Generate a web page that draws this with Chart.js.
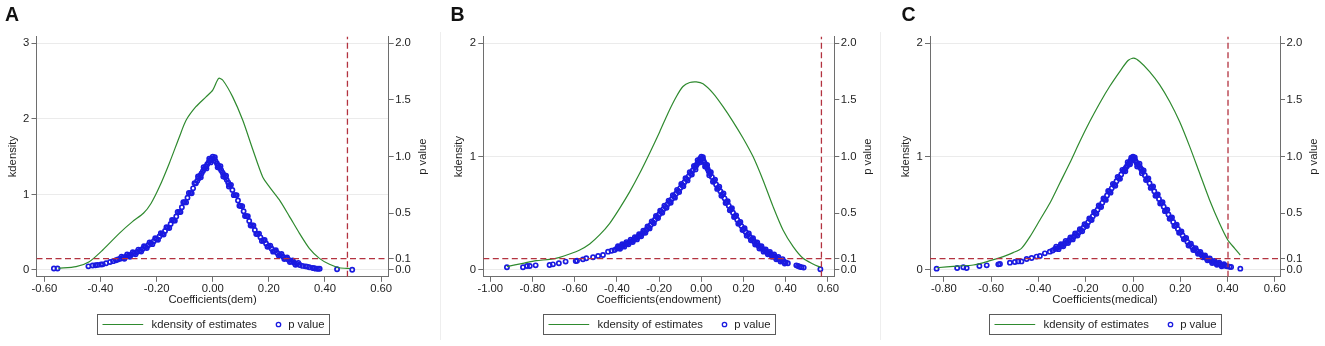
<!DOCTYPE html>
<html>
<head>
<meta charset="utf-8">
<script src="https://cdn.jsdelivr.net/npm/chart.js"></script>
<style>
  html, body { margin: 0; padding: 0; background: #fff; }
  #wrap { position: relative; width: 1325px; height: 346px; overflow: hidden; }
  .panel { position: absolute; top: 0; height: 346px; }
  .panel canvas { position: absolute; left: 0; top: 0; }
  .tag { position: absolute; top: 3.9px; font: bold 19.5px/20px "Liberation Sans", Arial, sans-serif; color: #111; }
  .sep { position: absolute; top: 32px; width: 1px; height: 308px; background: #eeeeee; }
</style>
</head>
<body>
<div id="wrap">
  <div class="panel" style="left:0;width:440px"><canvas id="chartA" width="440" height="346"></canvas></div>
  <div class="panel" style="left:440px;width:440px"><canvas id="chartB" width="440" height="346"></canvas></div>
  <div class="panel" style="left:880px;width:445px"><canvas id="chartC" width="445" height="346"></canvas></div>
  <div class="sep" style="left:440px"></div>
  <div class="sep" style="left:880px"></div>
  <div class="tag" style="left:5px">A</div>
  <div class="tag" style="left:450.5px">B</div>
  <div class="tag" style="left:901.5px">C</div>
</div>
<script>
// ---- data ----
const xTicksA = [-0.6, -0.4, -0.2, 0, 0.2, 0.4, 0.6];
const xTicksB = [-1.0, -0.8, -0.6, -0.4, -0.2, 0, 0.2, 0.4, 0.6];
const xTicksC = [-0.8, -0.6, -0.4, -0.2, 0, 0.2, 0.4, 0.6];
const kdTicksA = [0, 1, 2, 3];
const kdTicksBC = [0, 1, 2];
const pTicks = [0, 0.1, 0.5, 1, 1.5, 2];
const pCutoff = 0.1;
const coefCutoffs = [0.48, 0.569, 0.402];
const xTitles = ['Coefficients(dem)', 'Coefficients(endowment)', 'Coefficients(medical)'];

// kdensity of estimates [coefficient, density]
const kdensA = [[-0.55,0.022],[-0.487,0.044],[-0.44,0.11],[-0.392,0.265],[-0.333,0.485],[-0.286,0.64],
  [-0.247,0.75],[-0.22,0.88],[-0.19,1.10],[-0.155,1.41],[-0.119,1.76],[-0.095,1.98],[-0.06,2.16],
  [-0.024,2.29],[0,2.38],[0.021,2.535],[0.036,2.51],[0.071,2.29],[0.107,1.98],[0.143,1.59],[0.178,1.23],
  [0.202,1.10],[0.237,0.93],[0.273,0.71],[0.309,0.485],[0.344,0.287],[0.38,0.154],[0.416,0.075],
  [0.451,0.03],[0.49,0.02]];
const kdensB = [[-0.921,0.03],[-0.845,0.059],[-0.782,0.082],[-0.719,0.094],[-0.671,0.112],[-0.624,0.141],
  [-0.576,0.177],[-0.529,0.23],[-0.482,0.309],[-0.434,0.412],[-0.387,0.544],[-0.339,0.691],[-0.292,0.853],
  [-0.245,1.03],[-0.197,1.22],[-0.158,1.383],[-0.118,1.53],[-0.087,1.618],[-0.055,1.653],[-0.024,1.659],
  [0.008,1.642],[0.055,1.56],[0.103,1.441],[0.15,1.309],[0.198,1.162],[0.245,1.0],[0.292,0.794],
  [0.34,0.559],[0.387,0.353],[0.435,0.206],[0.482,0.103],[0.529,0.053],[0.564,0.024]];
const kdensC = [[-0.831,0.02],[-0.746,0.035],[-0.676,0.044],[-0.605,0.082],[-0.549,0.118],[-0.507,0.153],
  [-0.472,0.191],[-0.436,0.294],[-0.394,0.441],[-0.352,0.588],[-0.31,0.765],[-0.268,0.941],[-0.225,1.133],
  [-0.183,1.309],[-0.141,1.471],[-0.099,1.618],[-0.056,1.75],[-0.021,1.847],[0.003,1.868],[0.028,1.839],
  [0.07,1.75],[0.113,1.633],[0.155,1.486],[0.197,1.309],[0.24,1.088],[0.282,0.853],[0.324,0.618],
  [0.366,0.412],[0.401,0.265],[0.43,0.191],[0.454,0.132]];

// p values [coefficient, p] - traced along the middle of the cloud
const pValueA = [[-0.566,0.013],[-0.553,0.013],[-0.443,0.032],[-0.428,0.04],[-0.418,0.042],[-0.41,0.045],
  [-0.398,0.048],[-0.392,0.05],[-0.38,0.06],[-0.366,0.07],[-0.355,0.078],[-0.345,0.086],[-0.338,0.092],
  [-0.33,0.099],[-0.32,0.108],[-0.31,0.117],[-0.30,0.126],[-0.29,0.136],[-0.28,0.147],[-0.27,0.159],
  [-0.26,0.171],[-0.25,0.185],[-0.24,0.202],[-0.23,0.218],[-0.22,0.235],[-0.21,0.253],[-0.20,0.273],
  [-0.19,0.295],[-0.18,0.318],[-0.17,0.344],[-0.16,0.374],[-0.15,0.405],[-0.14,0.437],[-0.13,0.472],
  [-0.12,0.51],[-0.11,0.553],[-0.10,0.597],[-0.09,0.638],[-0.08,0.678],[-0.07,0.72],[-0.06,0.764],
  [-0.055,0.787],[-0.05,0.81],[-0.045,0.831],[-0.04,0.852],[-0.035,0.872],[-0.03,0.892],[-0.025,0.911],
  [-0.02,0.93],[-0.015,0.948],[-0.01,0.965],[-0.005,0.983],[0,1.0],
  [0.005,0.98],[0.01,0.96],[0.015,0.94],[0.02,0.92],[0.025,0.90],[0.03,0.88],[0.035,0.859],[0.04,0.838],
  [0.045,0.817],[0.05,0.795],[0.055,0.772],[0.06,0.75],[0.07,0.705],[0.08,0.66],[0.09,0.613],[0.10,0.565],
  [0.11,0.518],[0.12,0.475],[0.13,0.432],[0.14,0.392],[0.15,0.353],[0.16,0.318],[0.17,0.288],[0.18,0.26],
  [0.19,0.234],[0.20,0.21],[0.21,0.188],[0.22,0.168],[0.23,0.15],[0.24,0.133],[0.25,0.118],[0.26,0.103],
  [0.27,0.09],[0.28,0.077],[0.29,0.065],[0.30,0.054],[0.31,0.044],
  [0.32,0.036],[0.33,0.032],[0.336,0.03],[0.344,0.024],[0.356,0.018],[0.362,0.015],[0.368,0.012],
  [0.375,0.011],[0.381,0.011],[0.443,0.007],[0.497,0.002]];
// p values on the upper / lower edge of the dense band
const pSpreadA = [[-0.325,0.118],[-0.315,0.099],[-0.305,0.136],[-0.295,0.117],[-0.285,0.157],[-0.275,0.138],
  [-0.265,0.18],[-0.255,0.163],[-0.245,0.21],[-0.235,0.194],[-0.225,0.243],[-0.215,0.228],[-0.205,0.28],
  [-0.195,0.267],[-0.185,0.325],[-0.175,0.313],[-0.165,0.378],[-0.155,0.371],[-0.145,0.441],[-0.135,0.435],
  [-0.125,0.512],[-0.115,0.511],[-0.105,0.597],[-0.095,0.596],[-0.085,0.68],[-0.075,0.677],[-0.065,0.765],
  [-0.0525,0.824],[-0.0425,0.817],[-0.0325,0.907],[-0.0225,0.896],[-0.0125,0.982],[-0.0075,0.949],
  [0.0075,0.995],[0.0175,0.905],[0.0275,0.915],[0.0375,0.824],[0.0475,0.831],[0.0575,0.736],
  [0.065,0.751],[0.075,0.66],[0.085,0.659],[0.095,0.567],[0.105,0.563],[0.115,0.476],[0.125,0.474],
  [0.135,0.392],[0.145,0.392],[0.155,0.317],[0.165,0.321],[0.175,0.256],[0.185,0.264],[0.195,0.205],
  [0.205,0.215],[0.215,0.162],[0.225,0.175],[0.235,0.127],[0.245,0.141],[0.255,0.096],[0.265,0.11],
  [0.275,0.07],[0.285,0.085],[0.295,0.046],[0.305,0.063]];

const pValueB = [[-0.921,0.024],[-0.845,0.024],[-0.826,0.035],[-0.813,0.035],[-0.785,0.041],[-0.719,0.044],
  [-0.703,0.05],[-0.675,0.059],[-0.643,0.074],[-0.595,0.079],[-0.589,0.082],[-0.561,0.094],[-0.545,0.103],
  [-0.513,0.112],[-0.489,0.124],[-0.466,0.132],[-0.442,0.162],[-0.425,0.17],[-0.411,0.177],
  [-0.40,0.190],[-0.39,0.198],[-0.38,0.207],[-0.37,0.216],[-0.36,0.226],[-0.35,0.236],[-0.34,0.246],
  [-0.33,0.256],[-0.32,0.267],[-0.31,0.279],[-0.30,0.292],[-0.29,0.306],[-0.28,0.321],[-0.27,0.337],
  [-0.26,0.355],[-0.25,0.375],[-0.24,0.397],[-0.23,0.42],[-0.22,0.443],[-0.21,0.467],[-0.20,0.49],
  [-0.19,0.513],[-0.18,0.536],[-0.17,0.558],[-0.16,0.58],[-0.15,0.602],[-0.14,0.625],[-0.13,0.648],
  [-0.12,0.672],[-0.11,0.697],[-0.10,0.722],[-0.09,0.748],[-0.08,0.774],[-0.07,0.8],[-0.06,0.826],
  [-0.05,0.852],[-0.04,0.879],[-0.03,0.906],[-0.025,0.92],[-0.02,0.935],[-0.015,0.951],[-0.01,0.967],
  [-0.005,0.983],[0,1.0],
  [0.005,0.983],[0.01,0.965],[0.015,0.947],[0.02,0.929],[0.025,0.911],[0.03,0.89],[0.035,0.871],
  [0.04,0.853],[0.05,0.82],[0.06,0.788],[0.07,0.755],[0.08,0.724],[0.09,0.695],[0.10,0.665],[0.11,0.632],
  [0.12,0.598],[0.13,0.566],[0.14,0.536],[0.15,0.505],[0.16,0.474],[0.17,0.443],[0.18,0.415],[0.19,0.387],
  [0.20,0.36],[0.21,0.335],[0.22,0.312],[0.23,0.292],[0.24,0.272],[0.25,0.252],[0.26,0.234],[0.27,0.216],
  [0.28,0.2],[0.29,0.185],[0.30,0.172],[0.31,0.16],[0.32,0.148],[0.33,0.137],[0.34,0.126],[0.35,0.115],
  [0.36,0.104],[0.37,0.094],[0.38,0.085],[0.39,0.076],[0.40,0.067],[0.41,0.06],
  [0.45,0.041],[0.458,0.035],[0.466,0.029],[0.475,0.025],[0.485,0.021],[0.564,0.006]];
const pSpreadB = [[-0.395,0.209],[-0.385,0.188],[-0.375,0.227],[-0.365,0.206],[-0.355,0.246],[-0.345,0.226],
  [-0.335,0.267],[-0.325,0.246],[-0.315,0.289],[-0.305,0.27],[-0.295,0.316],[-0.285,0.297],[-0.275,0.347],
  [-0.265,0.328],[-0.255,0.384],[-0.245,0.367],[-0.235,0.429],[-0.225,0.412],[-0.215,0.476],[-0.205,0.458],
  [-0.195,0.523],[-0.185,0.504],[-0.175,0.568],[-0.165,0.548],[-0.155,0.612],[-0.145,0.593],[-0.135,0.659],
  [-0.125,0.638],[-0.115,0.707],[-0.105,0.688],[-0.095,0.758],[-0.085,0.738],[-0.075,0.81],[-0.065,0.79],
  [-0.055,0.863],[-0.045,0.842],[-0.035,0.918],[-0.0275,0.887],[-0.0175,0.969],[-0.0075,0.949],
  [0.0075,0.995],[0.0175,0.912],[0.0275,0.927],[0.0375,0.836],[0.045,0.863],[0.055,0.778],[0.065,0.797],
  [0.075,0.715],[0.085,0.735],[0.095,0.655],[0.105,0.674],[0.115,0.591],[0.125,0.606],[0.135,0.527],
  [0.145,0.544],[0.155,0.467],[0.165,0.482],[0.175,0.407],[0.185,0.423],[0.195,0.352],[0.205,0.369],
  [0.215,0.303],[0.225,0.322],[0.235,0.262],[0.245,0.281],[0.255,0.224],[0.265,0.243],[0.275,0.19],
  [0.285,0.21],[0.295,0.162],[0.305,0.182],[0.315,0.138],[0.325,0.159],[0.335,0.116],[0.345,0.136],
  [0.355,0.095],[0.365,0.114],[0.375,0.075],[0.385,0.096],[0.395,0.057]];

const pValueC = [[-0.831,0.012],[-0.744,0.018],[-0.718,0.024],[-0.704,0.018],[-0.65,0.035],[-0.619,0.041],
  [-0.57,0.05],[-0.563,0.053],[-0.521,0.065],[-0.5,0.071],[-0.486,0.076],[-0.472,0.076],[-0.45,0.097],
  [-0.429,0.106],[-0.408,0.118],[-0.394,0.124],[-0.373,0.147],[-0.352,0.162],[-0.34,0.172],
  [-0.33,0.185],[-0.32,0.193],[-0.31,0.206],[-0.30,0.218],[-0.29,0.232],[-0.28,0.247],[-0.27,0.262],
  [-0.26,0.278],[-0.25,0.295],[-0.24,0.313],[-0.23,0.33],[-0.22,0.35],[-0.21,0.372],[-0.20,0.396],
  [-0.19,0.42],[-0.18,0.447],[-0.17,0.475],[-0.16,0.503],[-0.15,0.532],[-0.14,0.561],[-0.13,0.592],
  [-0.12,0.624],[-0.11,0.657],[-0.10,0.69],[-0.09,0.72],[-0.08,0.75],[-0.07,0.782],[-0.06,0.812],
  [-0.05,0.843],[-0.04,0.874],[-0.035,0.889],[-0.03,0.903],[-0.025,0.917],[-0.02,0.932],[-0.015,0.948],
  [-0.01,0.965],[-0.005,0.982],[0,1.0],
  [0.005,0.982],[0.01,0.964],[0.015,0.946],[0.02,0.93],[0.025,0.918],[0.03,0.905],[0.035,0.888],
  [0.04,0.87],[0.05,0.835],[0.06,0.8],[0.07,0.765],[0.08,0.73],[0.09,0.695],[0.10,0.66],[0.11,0.627],
  [0.12,0.592],[0.13,0.558],[0.14,0.525],[0.15,0.49],[0.16,0.457],[0.17,0.424],[0.18,0.393],[0.19,0.362],
  [0.20,0.333],[0.21,0.305],[0.22,0.276],[0.23,0.248],[0.24,0.222],[0.25,0.203],[0.26,0.185],[0.27,0.167],
  [0.28,0.15],[0.29,0.135],[0.30,0.12],[0.31,0.106],[0.32,0.093],[0.33,0.081],[0.34,0.07],[0.35,0.062],
  [0.36,0.055],[0.37,0.048],[0.38,0.042],[0.39,0.037],
  [0.398,0.033],[0.408,0.029],[0.415,0.026],[0.454,0.012]];
const pSpreadC = [[-0.325,0.205],[-0.315,0.184],[-0.305,0.228],[-0.295,0.209],[-0.285,0.257],[-0.275,0.238],
  [-0.265,0.287],[-0.255,0.27],[-0.245,0.322],[-0.235,0.304],[-0.225,0.359],[-0.215,0.342],[-0.205,0.404],
  [-0.195,0.388],[-0.185,0.455],[-0.175,0.44],[-0.165,0.511],[-0.155,0.496],[-0.145,0.569],[-0.135,0.555],
  [-0.125,0.631],[-0.115,0.618],[-0.105,0.697],[-0.095,0.682],[-0.085,0.758],[-0.075,0.743],[-0.065,0.821],
  [-0.055,0.804],[-0.045,0.883],[-0.0325,0.871],[-0.0225,0.95],[-0.0125,0.932],[-0.0075,0.99],
  [0.0075,0.993],[0.0175,0.913],[0.0275,0.937],[0.0375,0.854],[0.045,0.878],[0.055,0.793],[0.065,0.807],
  [0.075,0.724],[0.085,0.737],[0.095,0.654],[0.105,0.667],[0.115,0.587],[0.125,0.598],[0.135,0.519],
  [0.145,0.531],[0.155,0.452],[0.165,0.463],[0.175,0.388],[0.185,0.399],[0.195,0.328],[0.205,0.339],
  [0.215,0.271],[0.225,0.282],[0.235,0.216],[0.245,0.231],[0.255,0.177],[0.265,0.193],[0.275,0.143],
  [0.285,0.159],[0.295,0.113],[0.305,0.128],[0.315,0.085],[0.325,0.101],[0.335,0.062],[0.345,0.079],
  [0.355,0.046],[0.365,0.064],[0.375,0.033],[0.385,0.051]];

// ---- look ----
const FONT_FAMILY = '"Liberation Sans", Arial, sans-serif';
const FONT_SIZE = 11.3;
const TEXT = '#1e1e1e';
const AXIS = '#6e6e6e';
const GREEN = '#2f8a2f';
const BLUE = '#1a1ae0';
const RED = '#b3323f';

Chart.defaults.font.family = FONT_FAMILY;
Chart.defaults.font.size = FONT_SIZE;
Chart.defaults.color = TEXT;

const PLOT_TOP = 36.4;
const PLOT_BOTTOM = 276.8;
const P_MIN = -0.06, P_MAX = 2.06;

// legend box + right axis title, laid out the Stata way
const stataExtras = {
  id: 'stataExtras',
  afterDraw(chart) {
    const { ctx, chartArea } = chart;
    const kd = chart.data.datasets.find(d => d.role === 'kdensity');
    const pv = chart.data.datasets.find(d => d.role === 'pvalue');
    ctx.save();
    ctx.font = FONT_SIZE + 'px ' + FONT_FAMILY;
    ctx.fillStyle = TEXT;
    ctx.textBaseline = 'middle';

    // "p value" reads bottom to top like the left title
    ctx.save();
    ctx.translate(chartArea.right + 33.8, (chartArea.top + chartArea.bottom) / 2);
    ctx.rotate(-Math.PI / 2);
    ctx.textAlign = 'center';
    ctx.fillText(pv.label, 0, 0);
    ctx.restore();

    const bw = 232, bh = 20;
    const bx = Math.round((chartArea.left + chartArea.right) / 2 - bw / 2) + 0.5;
    const by = 314.5;
    const my = by + bh / 2;
    ctx.strokeStyle = '#5a5a5a';
    ctx.lineWidth = 1;
    ctx.strokeRect(bx, by, bw, bh);

    ctx.strokeStyle = kd.borderColor;
    ctx.lineWidth = kd.borderWidth;
    ctx.beginPath();
    ctx.moveTo(bx + 5, my);
    ctx.lineTo(bx + 45.7, my);
    ctx.stroke();
    ctx.textAlign = 'left';
    ctx.fillText(kd.label, bx + 54, my);

    ctx.strokeStyle = pv.borderColor;
    ctx.lineWidth = 1.3;
    ctx.beginPath();
    ctx.arc(bx + 181, my, 2.2, 0, Math.PI * 2);
    ctx.stroke();
    ctx.fillText(pv.label, bx + 190.7, my);
    ctx.restore();
  }
};

function toPoints(pairs) {
  return pairs.map(([x, y]) => ({ x: x, y: y }));
}

function makePanel(id, opt) {
  const ctx = document.getElementById(id);
  new Chart(ctx, {
    type: 'scatter',
    data: {
      datasets: [
        {
          label: 'cutoff', yAxisID: 'p', showLine: true,
          data: [{ x: opt.cut, y: P_MIN }, { x: opt.cut, y: P_MAX }],
          borderColor: RED, borderWidth: 1.3, borderDash: [6, 3.5], pointRadius: 0
        },
        {
          label: 'p = 0.1', yAxisID: 'p', showLine: true,
          data: [{ x: opt.xMin, y: pCutoff }, { x: opt.xMax, y: pCutoff }],
          borderColor: RED, borderWidth: 1.3, borderDash: [6, 3.5], pointRadius: 0
        },
        {
          role: 'kdensity', label: 'kdensity of estimates', yAxisID: 'y', showLine: true,
          data: toPoints(opt.kdens),
          borderColor: GREEN, borderWidth: 1.2, pointRadius: 0, tension: 0.25
        },
        {
          role: 'pvalue', label: 'p value', yAxisID: 'p',
          data: toPoints(opt.pvals),
          borderColor: BLUE, backgroundColor: 'rgba(0,0,0,0)', borderWidth: 1.7,
          pointRadius: 2.1, pointStyle: 'circle'
        }
      ]
    },
    options: {
      responsive: false,
      animation: false,
      events: [],
      layout: { padding: { top: PLOT_TOP, left: 0, right: 0, bottom: 0 } },
      plugins: { legend: { display: false }, tooltip: { enabled: false } },
      scales: {
        x: {
          type: 'linear', position: 'bottom', min: opt.xMin, max: opt.xMax,
          afterBuildTicks: s => { s.ticks = opt.xTicks.map(v => ({ value: v })); },
          afterFit: s => { s.height = 346 - PLOT_BOTTOM; },
          ticks: { autoSkip: false, maxRotation: 0, padding: 0, callback: v => v.toFixed(2) },
          grid: { drawOnChartArea: false, tickLength: 5, tickColor: AXIS },
          border: { color: AXIS },
          title: { display: true, text: opt.xTitle, padding: { top: 0, bottom: 39 } }
        },
        y: {
          type: 'linear', position: 'left', min: opt.kdMin, max: opt.kdMax,
          afterBuildTicks: s => { s.ticks = opt.kdTicks.map(v => ({ value: v })); },
          afterFit: s => { s.width = opt.left; },
          ticks: { autoSkip: false, padding: 2.2, callback: v => String(v) },
          grid: { color: '#ebebeb', tickLength: 5, tickColor: AXIS },
          border: { color: AXIS },
          title: { display: true, text: 'kdensity', padding: { top: opt.left - 24 - FONT_SIZE * 0.6, bottom: 0 } }
        },
        p: {
          type: 'linear', position: 'right', min: P_MIN, max: P_MAX,
          afterBuildTicks: s => { s.ticks = pTicks.map(v => ({ value: v })); },
          afterFit: s => { s.width = opt.width - opt.right; },
          ticks: { autoSkip: false, padding: 1.5, callback: v => v.toFixed(1) },
          grid: { drawOnChartArea: false, tickLength: 5, tickColor: AXIS },
          border: { color: AXIS }
        }
      }
    },
    plugins: [stataExtras]
  });
}

makePanel('chartA', {
  width: 440, left: 36.5, right: 388.7, xMin: -0.628, xMax: 0.627,
  kdMin: -0.09, kdMax: 3.09, kdTicks: kdTicksA, xTicks: xTicksA,
  cut: coefCutoffs[0], xTitle: xTitles[0], kdens: kdensA, pvals: pValueA.concat(pSpreadA)
});
makePanel('chartB', {
  width: 440, left: 43.3, right: 394.3, xMin: -1.033, xMax: 0.63,
  kdMin: -0.06, kdMax: 2.06, kdTicks: kdTicksBC, xTicks: xTicksB,
  cut: coefCutoffs[1], xTitle: xTitles[1], kdens: kdensB, pvals: pValueB.concat(pSpreadB)
});
makePanel('chartC', {
  width: 445, left: 50, right: 400, xMin: -0.859, xMax: 0.622,
  kdMin: -0.06, kdMax: 2.06, kdTicks: kdTicksBC, xTicks: xTicksC,
  cut: coefCutoffs[2], xTitle: xTitles[2], kdens: kdensC, pvals: pValueC.concat(pSpreadC)
});
</script>
</body>
</html>
